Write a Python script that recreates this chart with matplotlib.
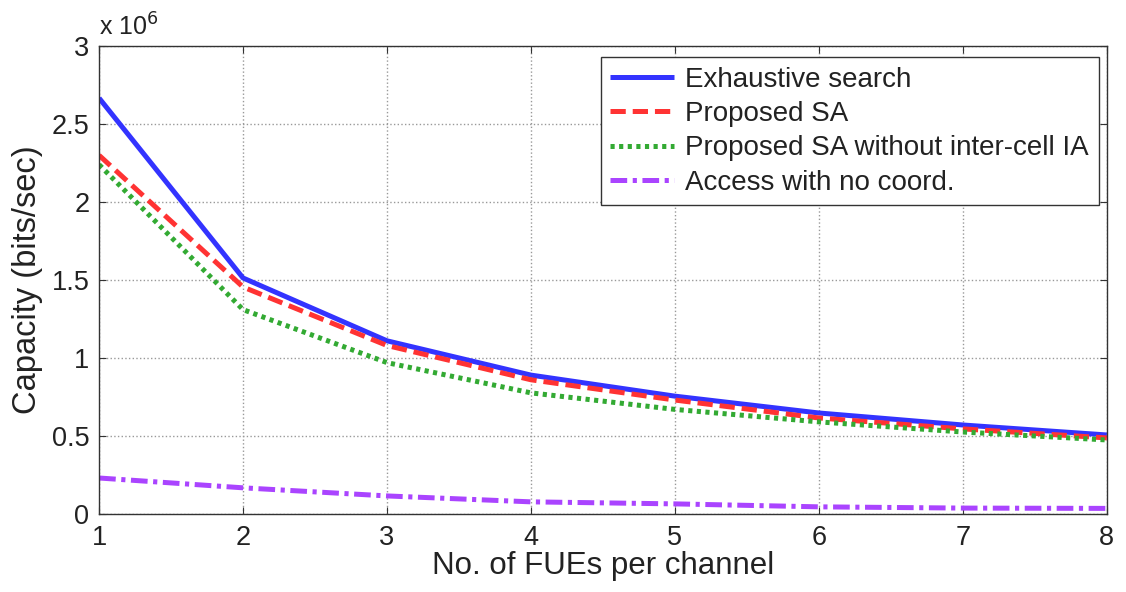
import matplotlib
matplotlib.use("Agg")
import matplotlib.pyplot as plt

plt.rcParams['font.family'] = ['Liberation Sans', 'DejaVu Sans']
plt.rcParams['lines.scale_dashes'] = False

x = [1, 2, 3, 4, 5, 6, 7, 8]
exhaustive = [2.667, 1.513, 1.11, 0.89, 0.755, 0.647, 0.57, 0.506]
proposed_sa = [2.30, 1.455, 1.08, 0.86, 0.73, 0.615, 0.545, 0.487]
without_ia = [2.24, 1.31, 0.97, 0.776, 0.67, 0.59, 0.525, 0.474]
no_coord = [0.23, 0.167, 0.115, 0.077, 0.064, 0.045, 0.037, 0.035]
labels = ["Exhaustive search", "Proposed SA",
          "Proposed SA without inter-cell IA", "Access with no coord."]
yticks = [0, 0.5, 1, 1.5, 2, 2.5, 3]

fig = plt.figure(figsize=(11.26, 5.92), dpi=100)
ax = fig.add_axes([0.088, 0.132, 0.895, 0.79])

lw = 3.6
ax.plot(x, exhaustive, color='#3333ff', lw=lw, label=labels[0], solid_capstyle='butt')
ax.plot(x, proposed_sa, color='#ff3333', lw=lw, dashes=(11, 5), label=labels[1],
        dash_capstyle='butt')
ax.plot(x, without_ia, color='#33aa33', lw=lw, dashes=(3, 3.2), label=labels[2],
        dash_capstyle='butt')
ax.plot(x, no_coord, color='#aa44ff', lw=lw, dashes=(12, 4, 3, 4), label=labels[3],
        dash_capstyle='butt')

ax.set_xlim(1, 8)
ax.set_ylim(0, 3)
ax.set_xticks(x)
ax.set_yticks(yticks)
ax.set_yticklabels(['%g' % v for v in yticks])
ax.tick_params(direction='in', top=True, right=True, labelsize=19.5, length=5,
               color='#333333', labelcolor='#222222')
ax.tick_params(axis='x', pad=8)
ax.tick_params(axis='y', pad=7)
ax.grid(True, linestyle=':', color='#999999', linewidth=1.0)
for s in ax.spines.values():
    s.set_color('#333333')
    s.set_linewidth(1.0)

ax.set_xlabel("No. of FUEs per channel", fontsize=22.5, color='#222222', labelpad=0)
ax.set_ylabel("Capacity (bits/sec)", fontsize=23.5, color='#222222', labelpad=6)
ax.text(0.0, 1.012, r"x 10$^{6}$", transform=ax.transAxes, fontsize=18,
        color='#222222', ha='left', va='bottom')

leg = ax.legend(loc='upper right', bbox_to_anchor=(0.992, 0.977), fontsize=20,
                frameon=True, fancybox=False, framealpha=1, edgecolor='#333333',
                handlelength=2.3, borderpad=0.35, labelspacing=0.3,
                handletextpad=0.4, borderaxespad=0)
leg.get_frame().set_linewidth(1.0)
for t in leg.get_texts():
    t.set_color('#222222')

fig.savefig("out.png", dpi=100)
